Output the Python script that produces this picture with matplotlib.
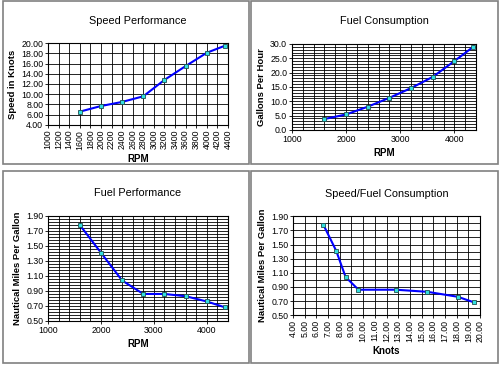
import matplotlib
matplotlib.use("Agg")
import matplotlib.pyplot as plt
import numpy as np
from matplotlib.patches import Rectangle
from matplotlib.ticker import MultipleLocator, FormatStrFormatter

# data
rpm = [1600, 2000, 2400, 2800, 3200, 3600, 4000, 4350]
knots = [6.6, 7.7, 8.5, 9.6, 12.8, 15.5, 18.1, 19.5]
gph = [3.8, 5.4, 8.1, 11.2, 14.6, 18.5, 24.0, 29.0]
nmpg = [1.78, 1.41, 1.04, 0.86, 0.86, 0.83, 0.76, 0.68]

plt.rcParams['font.family'] = ['Liberation Sans', 'DejaVu Sans']

fig = plt.figure(figsize=(5, 3.66), dpi=100)
fig.patch.set_facecolor('white')

# panel borders (pixel boxes -> figure fraction)
for x0, y0, x1, y1 in [(3, 1, 249, 164), (251, 1, 498, 164), (3, 171, 249, 363), (251, 171, 498, 363)]:
    fig.patches.append(Rectangle((x0 / 500, 1 - y1 / 366), (x1 - x0) / 500, (y1 - y0) / 366,
                                 transform=fig.transFigure, fill=False, edgecolor='#808080', lw=1.2))

line_kw = dict(color='#0000ff', lw=1.5, marker='s', ms=3.2, mfc='#33e0e0', mec='#205050', mew=0.6)


def style(ax, title, xlabel, ylabel, xmaj, xmin, ymaj, ymin, xlim, ylim, xfmt, yfmt, rot, yoff=0):
    ax.set_xlim(*xlim)
    ax.set_ylim(*ylim)
    ax.xaxis.set_major_locator(MultipleLocator(xmaj))
    ax.xaxis.set_minor_locator(MultipleLocator(xmin))
    ax.yaxis.set_major_locator(MultipleLocator(ymaj, offset=yoff))
    ax.yaxis.set_minor_locator(MultipleLocator(ymin, offset=yoff))
    ax.xaxis.set_major_formatter(FormatStrFormatter(xfmt))
    ax.yaxis.set_major_formatter(FormatStrFormatter(yfmt))
    ax.grid(True, which='both', color='black', lw=0.6)
    ax.set_axisbelow(True)
    ax.tick_params(which='both', labelsize=6.3, length=2, width=0.6, pad=1.5)
    ax.tick_params(which='minor', length=0)
    ax.tick_params(axis='x', labelrotation=rot)
    for s in ax.spines.values():
        s.set_linewidth(0.8)
    ax.set_title(title, fontsize=7.8, pad=14)
    ax.set_xlabel(xlabel, fontsize=7, fontweight='bold', labelpad=3)
    ax.set_ylabel(ylabel, fontsize=6.8, fontweight='bold', labelpad=3)


ax1 = fig.add_axes([0.096, 0.6585, 0.36, 0.224])
ax1.plot(rpm, knots, **line_kw)
style(ax1, 'Speed Performance', 'RPM', 'Speed in Knots', 200, 200, 2, 2,
      (1000, 4400), (4, 20), '%d', '%.2f', 90)

ax2 = fig.add_axes([0.584, 0.645, 0.368, 0.235])
ax2.plot(rpm, gph, **line_kw)
style(ax2, 'Fuel Consumption', 'RPM', 'Gallons Per Hour', 1000, 200, 5, 1,
      (1000, 4400), (0, 30), '%d', '%.1f', 0)

ax3 = fig.add_axes([0.096, 0.123, 0.36, 0.287])
ax3.plot(rpm, nmpg, **line_kw)
style(ax3, 'Fuel Performance', 'RPM', 'Nautical Miles Per Gallon', 1000, 200, 0.2, 0.04,
      (1000, 4400), (0.5, 1.9), '%d', '%.2f', 0, yoff=0.1)

ax4 = fig.add_axes([0.586, 0.139, 0.374, 0.270])
ax4.plot(knots, nmpg, **line_kw)
style(ax4, 'Speed/Fuel Consumption', 'Knots', 'Nautical Miles Per Gallon', 1, 1, 0.2, 0.1,
      (4, 20), (0.5, 1.9), '%.2f', '%.2f', 90, yoff=0.1)

fig.savefig('out.png', dpi=100)
